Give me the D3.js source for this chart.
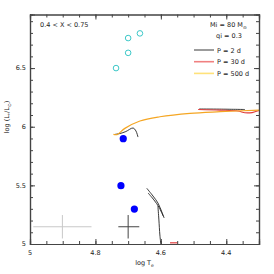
<!DOCTYPE html>
<html>
<head>
<meta charset="utf-8">
<script src="https://cdn.jsdelivr.net/npm/d3@7"></script>
<style>
  body { margin: 0; background: #fff; }
  text { font-family: "DejaVu Sans", sans-serif; fill: #222; }
</style>
</head>
<body>
<script>
// HR diagram: log Teff (reversed) vs log L

// observed stars, [logT, logL]
var openStars = [[4.737, 6.50], [4.700, 6.63], [4.700, 6.756], [4.664, 6.796]];
var filledStars = [[4.715, 5.898], [4.722, 5.497], [4.681, 5.298]];

// error crosses: [logT, logL, dT-, dT+, dL]
var errGrey = [4.901, 5.147, 0.089, 0.089, 0.10];
var errDark = [4.700, 5.147, 0.030, 0.034, 0.10];

// binary evolution tracks
var trackP2 = [
  [[4.643, 5.475], [4.624, 5.409], [4.609, 5.350], [4.597, 5.273], [4.590, 5.222]],
  [[4.639, 5.435], [4.621, 5.375], [4.606, 5.315], [4.593, 5.239]],
  [[4.609, 5.324], [4.606, 5.205], [4.603, 5.077], [4.600, 5.000]],
  [[4.740, 5.935], [4.725, 5.942], [4.707, 5.959], [4.685, 5.989], [4.676, 5.963], [4.670, 5.912]],
  [[4.483, 6.151], [4.420, 6.150], [4.343, 6.147]]
];
var trackP30 = [
  [[4.486, 6.147], [4.419, 6.142], [4.364, 6.134], [4.343, 6.119], [4.321, 6.121], [4.300, 6.138]],
  [[4.572, 5.010], [4.548, 5.010]]
];
var trackP500 = [
  [[4.745, 5.935], [4.734, 5.933], [4.710, 5.986], [4.664, 6.049], [4.603, 6.085], [4.511, 6.114], [4.419, 6.128], [4.300, 6.142]]
];

var xTicks = [5, 4.8, 4.6, 4.4];
var yTicks = [5, 5.5, 6, 6.5];
var legendLabels = ["P = 2 d", "P = 30 d", "P = 500 d"];
var legendColors = ["#222", "#f08080", "#ffe27a"];

var width = 274, height = 274;
var mLeft = 30, mRight = 259, mTop = 14.5, mBottom = 244;

var x = d3.scaleLinear().domain([5, 4.3]).range([mLeft, mRight]);
var y = d3.scaleLinear().domain([5, 6.957]).range([mBottom, mTop]);

var svg = d3.select("body").append("svg")
    .attr("width", width)
    .attr("height", height);

// tracks
var line = d3.line().x(d => x(d[0])).y(d => y(d[1])).curve(d3.curveCatmullRom);

function drawTracks(segs, color, w) {
  svg.append("g").selectAll("path")
    .data(segs)
    .enter().append("path")
      .attr("d", line)
      .attr("fill", "none")
      .attr("stroke", color)
      .attr("stroke-width", w);
}
drawTracks(trackP2, "#222", 0.9);
drawTracks(trackP30, "#e03c3c", 1.2);
drawTracks(trackP500, "#f5a623", 1.2);

// error crosses
function cross(e, color) {
  var g = svg.append("g").attr("stroke", color).attr("stroke-width", 1);
  g.append("line")
    .attr("x1", x(e[0] + e[2])).attr("x2", x(e[0] - e[3]))
    .attr("y1", y(e[1])).attr("y2", y(e[1]));
  g.append("line")
    .attr("x1", x(e[0])).attr("x2", x(e[0]))
    .attr("y1", y(e[1] - e[4])).attr("y2", y(e[1] + e[4]));
}
cross(errGrey, "#c8c8c8");
cross(errDark, "#444");

// stars
svg.append("g").selectAll("circle")
  .data(openStars)
  .enter().append("circle")
    .attr("cx", d => x(d[0]))
    .attr("cy", d => y(d[1]))
    .attr("r", 2.8)
    .attr("fill", "none")
    .attr("stroke", "#3cc8c8")
    .attr("stroke-width", 1);

svg.append("g").selectAll("circle")
  .data(filledStars)
  .enter().append("circle")
    .attr("cx", d => x(d[0]))
    .attr("cy", d => y(d[1]))
    .attr("r", 3.6)
    .attr("fill", "#0000ff");

// axes, ticks pointing inward on all four sides
var xMinor = d3.range(4.3, 5.0001, 0.05).map(v => +v.toFixed(2));
var yMinor = d3.range(5, 6.95, 0.1).map(v => +v.toFixed(1));

function frameAxis(gen, tr, vals, size) {
  var g = svg.append("g").attr("transform", tr)
    .call(gen.tickValues(vals).tickSize(-size).tickFormat(""));
  g.selectAll(".tick line").attr("stroke", "#444");
  g.select(".domain").attr("stroke", "#444").attr("stroke-width", 1.2);
}
[[d3.axisBottom, "translate(0," + mBottom + ")"], [d3.axisTop, "translate(0," + mTop + ")"]].forEach(function(a) {
  frameAxis(a[0](x), a[1], xMinor, 3);
  frameAxis(a[0](x), a[1], xTicks, 5);
});
[[d3.axisLeft, "translate(" + mLeft + ",0)"], [d3.axisRight, "translate(" + mRight + ",0)"]].forEach(function(a) {
  frameAxis(a[0](y), a[1], yMinor, 3);
  frameAxis(a[0](y), a[1], yTicks, 5);
});

// tick labels
svg.append("g").selectAll("text")
  .data(xTicks)
  .enter().append("text")
    .attr("x", d => x(d))
    .attr("y", mBottom + 11)
    .attr("text-anchor", "middle")
    .style("font-size", "6.5px")
    .text(d => d === 5 ? "5" : d3.format(".1f")(d));

svg.append("g").selectAll("text")
  .data(yTicks)
  .enter().append("text")
    .attr("x", mLeft - 4)
    .attr("y", d => y(d) + 2.3)
    .attr("text-anchor", "end")
    .style("font-size", "6.5px")
    .text(d => d % 1 === 0 ? String(d) : d3.format(".1f")(d));

// axis titles
var xt = svg.append("text")
    .attr("x", (mLeft + mRight) / 2)
    .attr("y", mBottom + 21)
    .attr("text-anchor", "middle")
    .style("font-size", "6.5px");
xt.append("tspan").text("log T");
xt.append("tspan").attr("dy", 1.5).style("font-size", "4.5px").text("e");

var yt = svg.append("text")
    .attr("transform", "translate(9," + 117 + ") rotate(-90)")
    .attr("text-anchor", "middle")
    .style("font-size", "6.5px");
yt.append("tspan").text("log (L");
yt.append("tspan").attr("dy", 1.5).style("font-size", "4.5px").text("*");
yt.append("tspan").attr("dy", -1.5).text("/L");
yt.append("tspan").attr("dy", 1.5).style("font-size", "4.5px").text("\u2299");
yt.append("tspan").attr("dy", -1.5).text(")");

// annotations
svg.append("text")
    .attr("x", 40).attr("y", 27)
    .style("font-size", "6.5px")
    .text("0.4 < X < 0.75");

var mi = svg.append("text")
    .attr("x", 210).attr("y", 27)
    .style("font-size", "6.5px");
mi.append("tspan").text("Mi = 80 M");
mi.append("tspan").attr("dy", 1.5).style("font-size", "4.5px").text("\u2299");

svg.append("text")
    .attr("x", 216).attr("y", 38)
    .style("font-size", "6.5px")
    .text("qi = 0.3");

var leg = svg.append("g").selectAll("g")
  .data(legendLabels)
  .enter().append("g")
    .attr("transform", (d, i) => "translate(0," + (50 + i * 11.7) + ")");
leg.append("line")
    .attr("x1", 194).attr("x2", 214)
    .attr("y1", 0).attr("y2", 0)
    .attr("stroke", (d, i) => legendColors[i])
    .attr("stroke-width", (d, i) => i === 0 ? 0.9 : 1.6);
leg.append("text")
    .attr("x", 217).attr("y", 2.5)
    .style("font-size", "6.5px")
    .text(d => d);
</script>
</body>
</html>
